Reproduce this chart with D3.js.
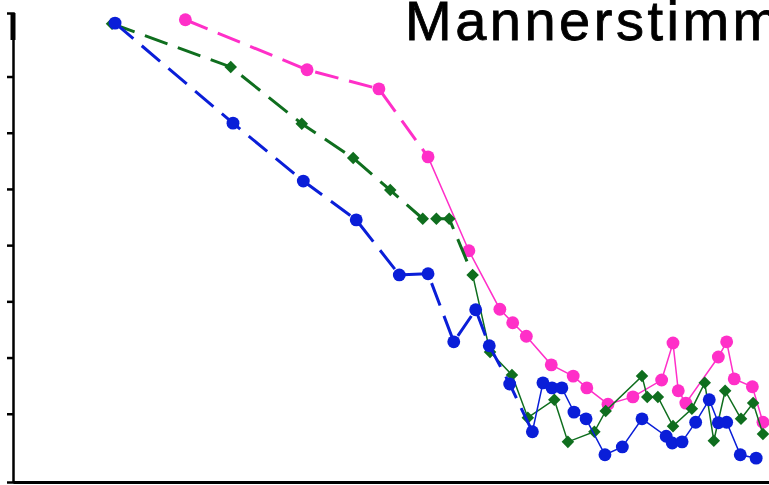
<!DOCTYPE html>
<html>
<head>
<meta charset="utf-8">
<script src="https://cdn.jsdelivr.net/npm/d3@7"></script>
<style>
  body { margin: 0; background: #fff; }
  svg { display: block; }
  .title { font-family: "Liberation Sans", Arial, sans-serif; }
</style>
</head>
<body>
<div id="chart"></div>
<script>
// series (x: 0..100, y: tens)
var blueX = [13.5, 29.1, 38.4, 45.4, 51.1, 54.9, 58.3, 61.2, 63.0, 65.7, 68.7, 70.1, 71.3, 72.6, 74.2, 75.8, 78.3, 80.6, 83.2, 86.4, 87.2, 88.5, 90.3, 92.1, 93.3, 94.4, 96.2, 98.3];
var blueY = [79.5, 61.7, 51.4, 44.5, 34.7, 34.9, 22.8, 28.5, 22.1, 15.3, 6.8, 15.5, 14.6, 14.6, 10.3, 9.1, 2.7, 4.1, 9.1, 6.0, 4.8, 5.0, 8.5, 12.5, 8.4, 8.5, 2.7, 2.1];

var greenX = [13.1, 28.8, 38.2, 45.0, 49.9, 54.2, 56.0, 57.7, 60.8, 63.1, 66.0, 68.1, 71.6, 73.4, 76.9, 78.4, 83.2, 83.9, 85.3, 87.3, 89.8, 91.5, 92.7, 94.2, 96.3, 97.9, 99.2];
var greenY = [79.4, 71.7, 61.6, 55.5, 49.8, 44.7, 44.7, 44.7, 34.7, 21.0, 16.9, 9.3, 12.5, 5.0, 6.8, 10.5, 16.7, 13.0, 13.0, 7.8, 10.9, 15.5, 5.2, 14.1, 9.1, 11.9, 6.4];

var pinkX = [22.8, 38.9, 48.4, 54.9, 60.3, 64.4, 66.1, 67.9, 71.2, 74.1, 75.9, 78.7, 82.0, 85.8, 87.3, 88.0, 89.0, 93.3, 94.4, 95.4, 97.8, 99.2];
var pinkY = [80.1, 71.2, 67.8, 55.7, 39.0, 28.6, 26.2, 23.8, 18.7, 16.7, 14.6, 11.7, 13.0, 16.0, 22.6, 14.1, 11.9, 20.1, 22.8, 16.2, 14.8, 8.5];

var yTicks = [10, 20, 30, 40, 50, 60, 70];
var titleText = "Mannerstimmen";

// how many leading points of each series are joined by the heavy dashed line
var series = [
    {name: "pink", xs: pinkX, ys: pinkY, color: "#ff2fc8", dashedUntil: 3, marker: "circle"},
    {name: "green", xs: greenX, ys: greenY, color: "#0f6e1e", dashedUntil: 8, marker: "diamond"},
    {name: "blue", xs: blueX, ys: blueY, color: "#0a1ed8", dashedUntil: 10, marker: "circle"}
];

var width = 769, height = 485;

var svg = d3.select("#chart").append("svg")
    .attr("width", width)
    .attr("height", height);

var x = d3.scaleLinear().domain([0, 100]).range([13, 769]);
var y = d3.scaleLinear().domain([-2.14, 81.3]).range([482, 13]);

// title, runs off the right edge like the scan
svg.append("text")
    .attr("class", "title")
    .attr("x", 405)
    .attr("y", 40)
    .attr("font-size", 56)
    .attr("letter-spacing", "3.5px")
    .attr("fill", "#000")
    .attr("stroke", "#000")
    .attr("stroke-width", 0.8)
    .text(titleText);

// axes
var yAxis = d3.axisLeft(y).tickValues(yTicks).tickSize(6).tickFormat("");
var gy = svg.append("g").attr("transform", "translate(" + x(0) + ",0)").call(yAxis);
gy.select(".domain").attr("stroke", "#000").attr("stroke-width", 2.5);
gy.selectAll(".tick line").attr("stroke", "#000").attr("stroke-width", 2.5);

// thick knob at the top of the y axis
svg.append("line")
    .attr("x1", x(0)).attr("x2", x(0))
    .attr("y1", y(81.3)).attr("y2", y(76.5))
    .attr("stroke", "#000").attr("stroke-width", 5);

var xAxis = d3.axisBottom(x).tickValues([]).tickSizeOuter(0);
var gx = svg.append("g").attr("transform", "translate(0," + y(-2.14) + ")").call(xAxis);
gx.select(".domain").attr("stroke", "#000").attr("stroke-width", 3);

var line = d3.line()
    .x(function(d) { return x(d[0]); })
    .y(function(d) { return y(d[1]); });

series.forEach(function(s) {
    var pts = s.xs.map(function(v, i) { return [v, s.ys[i]]; });
    var dashed = pts.slice(0, s.dashedUntil + 1);
    var solid = pts.slice(s.dashedUntil);

    svg.append("path")
        .datum(dashed)
        .attr("d", line)
        .attr("fill", "none")
        .attr("stroke", s.color)
        .attr("stroke-width", 3)
        .attr("stroke-dasharray", "24,11");

    svg.append("path")
        .datum(solid)
        .attr("d", line)
        .attr("fill", "none")
        .attr("stroke", s.color)
        .attr("stroke-width", 1.5);

    var sym = s.marker == "diamond" ? d3.symbolDiamond2 : d3.symbolCircle;
    var size = s.marker == "diamond" ? 100 : 130;
    svg.append("g").selectAll("path")
        .data(pts)
        .enter()
        .append("path")
        .attr("d", d3.symbol().type(sym).size(size))
        .attr("transform", function(d) { return "translate(" + x(d[0]) + "," + y(d[1]) + ")"; })
        .attr("fill", s.color);
});
</script>
</body>
</html>
